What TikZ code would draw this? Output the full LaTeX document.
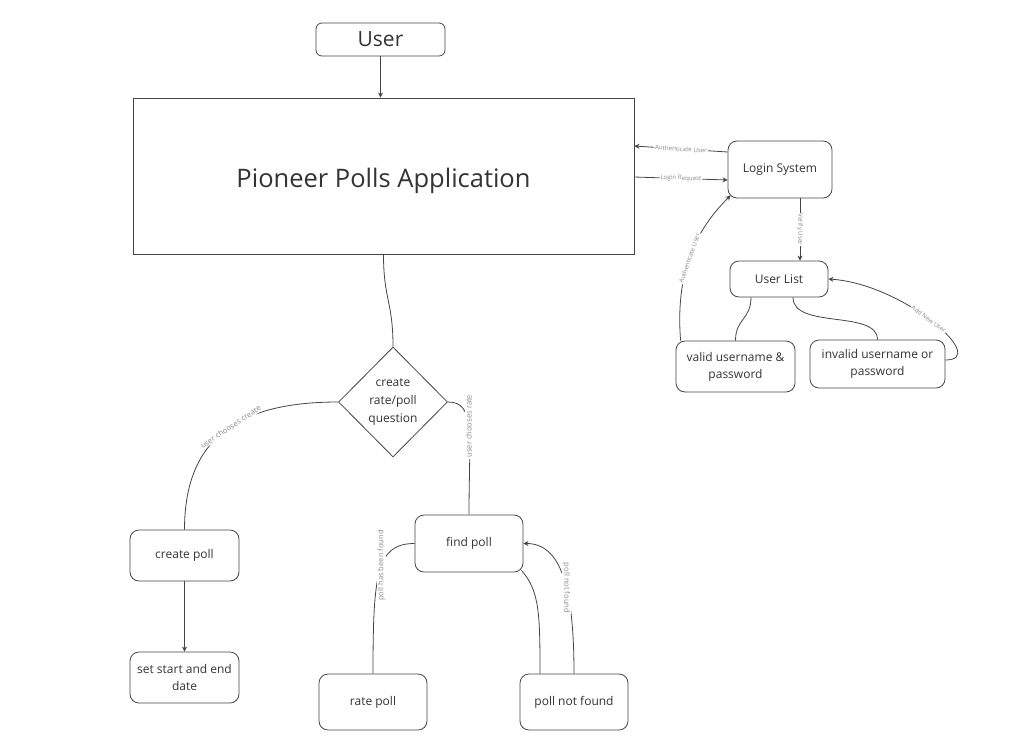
\documentclass[tikz,border=0pt]{standalone}
\usepackage{fontspec}
\setmainfont{Open Sans}
\usetikzlibrary{shapes.geometric,arrows.meta}
\definecolor{linegray}{HTML}{444444}
\definecolor{labelgray}{HTML}{8A8A8A}
\tikzset{
    box/.style={draw=linegray, line width=0.8pt, rounded corners=9pt, align=center, inner sep=0pt,
        text=black!80, font=\fontsize{12}{17}\selectfont},
    link/.style={linegray, line width=0.8pt},
    arr/.style={link, -{Stealth[length=5pt,width=5pt]}},
    lbl/.style={fill=white, inner sep=1pt, text=labelgray, font=\fontsize{7.6}{8}\selectfont},
    tinylbl/.style={lbl, font=\fontsize{6.2}{7}\selectfont},
}
\begin{document}
\begin{tikzpicture}[x=1pt, y=-1pt]
    \useasboundingbox (0,0) rectangle (1030,742);
    % boxes
    \node[box, rounded corners=6pt, minimum width=129pt, minimum height=33pt, font=\fontsize{21}{24}\selectfont] (user) at (380.5,39.5) {User};
    \node[box, rounded corners=0pt, minimum width=501pt, minimum height=156pt, font=\fontsize{25.5}{30}\selectfont, text height=29pt] (app) at (383.5,176) {Pioneer Polls Application};
    \node[box, minimum width=104pt, minimum height=57pt] (login) at (780,169.5) {Login System};
    \node[box, minimum width=98pt, minimum height=36pt] (ulist) at (779,279) {User List};
    \node[box, minimum width=119pt, minimum height=51pt] (valid) at (735.5,366.5) {valid username \&\\password};
    \node[box, minimum width=135pt, minimum height=48pt] (invalid) at (877.5,364) {invalid username or\\password};
    \node[box, diamond, rounded corners=0pt, aspect=1, minimum width=109pt, minimum height=110pt, font=\fontsize{12}{18}\selectfont] (choice) at (393,402) {create\\rate/poll\\question};
    \node[box, minimum width=109pt, minimum height=51pt] (create) at (184.5,555.5) {create poll};
    \node[box, minimum width=109pt, minimum height=51pt] (dates) at (184.5,677.5) {set start and end\\date};
    \node[box, minimum width=108pt, minimum height=57pt] (find) at (469,543.5) {find poll};
    \node[box, minimum width=108pt, minimum height=56pt] (rate) at (373,702) {rate poll};
    \node[box, minimum width=108pt, minimum height=56pt] (notfound) at (574,702) {poll not found};

    % login side
    \draw[arr] (user.south) -- (user.south |- app.north);
    \draw[arr] ([yshift=17.5pt]login.west) -- node[tinylbl, sloped] {Authenticate User} ([yshift=30pt]app.east);
    \draw[arr] ([yshift=-1pt]app.east) -- node[tinylbl, sloped] {Login Request} ([yshift=-10.5pt]login.west);
    \draw[arr] ([xshift=20pt]login.south) -- node[tinylbl, rotate=-90] {Verify User} ([xshift=20pt]login.south |- ulist.north);
    \draw[link] ([xshift=-28pt]ulist.south) .. controls +(0,22) and +(0,-22) .. (valid.north);
    \draw[link] ([xshift=14pt]ulist.south) .. controls +(0,32) and +(0,-30) .. (invalid.north);
    \draw[arr] ([xshift=5pt]valid.north west) .. controls +(-6,-75) and +(-30,30) .. node[tinylbl, sloped, pos=0.45] {Authenticate User} ([xshift=3pt,yshift=3pt]login.south west);
    \draw[arr] ([yshift=4pt]invalid.east) .. controls +(45,0) and +(75,5) .. node[tinylbl, sloped, pos=0.52] {Add New User} (ulist.east);

    % poll side
    \draw[link] (app.south) .. controls +(0,45) and +(0,-45) .. (choice.north);
    \draw[link] (choice.west) .. controls +(-95,0) and +(0,-95) .. node[lbl, sloped, pos=0.47] {user chooses create} (create.north);
    \draw[link] (choice.east) .. controls +(28,0) and +(0,-80) .. node[lbl, rotate=90, pos=0.48] {user chooses rate} (find.north);
    \draw[arr] (create.south) -- (dates.north);
    \draw[link] (find.west) .. controls +(-38,0) and +(0,-100) .. node[lbl, rotate=90, pos=0.45] {poll has been found} (rate.north);
    \draw[link] ([xshift=-2pt,yshift=2pt]find.south east) .. controls +(18,20) and +(0,-60) .. ([xshift=-34pt]notfound.north);
    \draw[arr] (notfound.north) .. controls +(0,-85) and +(38,0) .. node[lbl, rotate=-90, pos=0.42] {poll not found} (find.east);
\end{tikzpicture}
\end{document}
